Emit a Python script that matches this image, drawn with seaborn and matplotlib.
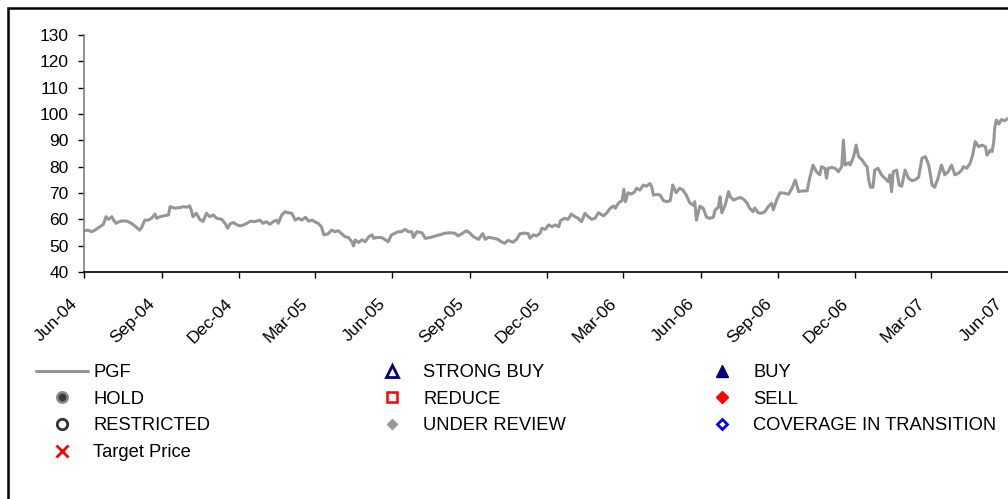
import matplotlib
matplotlib.use("Agg")
import matplotlib.pyplot as plt
import matplotlib.transforms as mtransforms
from matplotlib.lines import Line2D
from matplotlib.patches import Rectangle
import pandas as pd
import seaborn as sns

# Closing price series: calendar days after the start date, and price
start_date = "2004-06-01"
end_date = "2007-06-01"
days = [
    0, 5, 9, 13, 19, 23, 26, 29, 33, 35, 38, 41, 45, 51, 56, 60, 66, 68, 72, 76,
    80, 84, 86, 90, 94, 100, 102, 108, 114, 118, 122, 125, 127, 129, 133, 137, 141, 145, 149, 153,
    157, 163, 167, 170, 173, 177, 181, 185, 189, 193, 197, 202, 208, 212, 216, 220, 224, 228, 230, 234,
    238, 242, 246, 250, 254, 258, 262, 266, 270, 273, 277, 281, 284, 289, 293, 297, 301, 305, 309, 313,
    317, 319, 321, 325, 329, 333, 337, 341, 343, 347, 352, 356, 360, 364, 368, 372, 376, 380, 384, 388,
    390, 394, 400, 404, 410, 416, 421, 427, 433, 439, 443, 449, 453, 457, 461, 467, 472, 475, 479, 485,
    490, 494, 498, 502, 508, 512, 516, 522, 526, 528, 532, 536, 540, 542, 546, 550, 554, 558, 562, 564,
    569, 573, 577, 581, 585, 589, 593, 597, 601, 605, 609, 615, 619, 623, 627, 629, 633, 637, 639, 641,
    644, 648, 652, 654, 658, 662, 666, 670, 672, 674, 678, 682, 686, 690, 694, 697, 701, 705, 709, 713,
    717, 721, 723, 725, 729, 733, 737, 741, 745, 747, 751, 753, 755, 759, 763, 765, 769, 773, 777, 781,
    785, 788, 792, 794, 798, 802, 806, 810, 814, 816, 820, 824, 830, 834, 838, 842, 846, 850, 856, 859,
    863, 867, 871, 873, 877, 879, 881, 885, 889, 893, 897, 899, 901, 905, 907, 911, 914, 917, 921, 925,
    927, 929, 931, 934, 936, 940, 944, 948, 952, 954, 956, 958, 962, 965, 968, 972, 976, 980, 984, 988,
    992, 996, 1000, 1004, 1007, 1011, 1015, 1019, 1023, 1027, 1031, 1035, 1039, 1041, 1045, 1049, 1052, 1055, 1059, 1063,
    1067, 1069, 1073, 1075, 1077, 1078, 1080, 1083, 1086, 1090, 1093,
]
price = [
    55.7, 55.9, 55.3, 55.9, 57.2, 58.1, 61.0, 60.0, 61.0, 59.7, 58.5, 59.0, 59.4, 59.3, 58.5, 57.5, 55.9, 56.8, 59.7, 59.7,
    60.4, 62.0, 60.4, 61.0, 61.3, 61.7, 64.8, 64.2, 64.5, 64.8, 64.6, 65.1, 63.5, 61.0, 62.3, 60.0, 59.2, 62.3, 61.0, 61.7,
    60.4, 60.0, 58.5, 56.6, 58.3, 58.8, 57.9, 57.5, 57.9, 58.5, 59.3, 59.1, 59.7, 58.5, 59.1, 58.1, 59.1, 59.7, 58.5, 61.6,
    62.9, 62.5, 62.3, 59.7, 60.4, 59.7, 60.8, 59.3, 59.7, 59.1, 58.5, 57.2, 54.1, 54.5, 55.9, 55.3, 55.7, 54.5, 53.4, 53.1,
    51.5, 49.9, 52.2, 51.2, 52.2, 51.5, 53.4, 54.1, 52.8, 53.1, 53.1, 52.4, 51.5, 54.1, 54.7, 55.3, 55.3, 56.2, 55.3, 55.3,
    53.1, 55.3, 54.9, 52.8, 53.1, 53.7, 54.1, 54.7, 54.9, 54.7, 53.7, 54.9, 55.7, 54.7, 53.4, 52.4, 54.6, 52.4, 53.2, 52.8,
    52.4, 51.5, 50.9, 52.0, 51.3, 52.4, 54.5, 54.8, 54.5, 52.8, 54.1, 53.7, 54.8, 56.6, 56.2, 57.9, 57.2, 57.9, 57.2, 59.5,
    60.4, 60.0, 62.0, 61.0, 60.4, 59.1, 62.3, 61.0, 60.0, 60.4, 62.5, 61.3, 62.5, 64.2, 65.1, 64.2, 66.3, 67.1, 71.4, 66.7,
    70.1, 69.6, 70.5, 71.8, 71.1, 73.0, 72.6, 73.6, 72.4, 69.2, 69.5, 69.2, 67.1, 66.7, 67.1, 73.0, 70.1, 71.8, 71.1, 69.2,
    66.3, 65.4, 66.7, 59.7, 65.0, 64.2, 60.8, 60.4, 60.8, 63.5, 64.6, 68.6, 62.5, 65.4, 70.5, 68.6, 67.3, 67.9, 68.3, 67.6,
    66.1, 64.2, 62.9, 64.3, 62.5, 62.3, 62.9, 64.8, 66.1, 63.6, 67.4, 70.1, 69.9, 69.5, 71.8, 74.9, 70.5, 70.8, 70.8, 75.6,
    80.6, 78.1, 76.9, 80.0, 79.4, 75.6, 79.4, 79.7, 79.4, 78.1, 80.0, 90.1, 80.6, 81.5, 80.6, 83.8, 88.2, 83.8, 82.6, 80.6,
    80.0, 74.9, 72.2, 72.2, 78.7, 79.4, 76.9, 75.6, 74.3, 76.9, 70.5, 78.1, 78.7, 73.0, 72.6, 78.7, 75.6, 74.7, 75.0, 76.0,
    83.2, 83.8, 80.6, 73.0, 72.2, 75.6, 80.6, 76.9, 78.1, 80.6, 76.9, 77.5, 78.7, 80.0, 79.4, 81.3, 84.4, 89.5, 87.6, 88.2,
    87.6, 84.4, 86.3, 85.7, 89.5, 94.6, 97.7, 96.2, 97.9, 97.4, 98.2,
]
ticker = "PGF"
y_ticks = [40, 50, 60, 70, 80, 90, 100, 110, 120, 130]
x_tick_freq = "3MS"

# Rating key entries, listed column by column
legend_columns = [
    ["PGF", "HOLD", "RESTRICTED", "Target Price"],
    ["STRONG BUY", "REDUCE", "UNDER REVIEW"],
    ["BUY", "SELL", "COVERAGE IN TRANSITION"],
]

sns.set_theme(style="white")
plt.rcParams["font.family"] = ["Liberation Sans", "DejaVu Sans"]
plt.rcParams["text.color"] = "black"

W, H = 1008, 499
fig = plt.figure(figsize=(W / 100, H / 100), dpi=100)
ax = fig.add_axes([84 / W, 1 - 272 / H, 925 / W, 237 / H])

df = pd.DataFrame({
    "date": pd.Timestamp(start_date) + pd.to_timedelta(days, unit="D"),
    "price": price,
})
line_color = "#969696"
sns.lineplot(data=df, x="date", y="price", ax=ax, color=line_color,
             linewidth=2.2, legend=False)

ax.set_xlim(pd.Timestamp(start_date), pd.Timestamp(end_date))
ax.set_ylim(y_ticks[0], y_ticks[-1])
ax.set_yticks(y_ticks)
ax.set_xlabel("")
ax.set_ylabel("")

for side in ("top", "right"):
    ax.spines[side].set_visible(False)
ax.spines["left"].set_color("#808080")
ax.spines["left"].set_linewidth(1.2)
ax.spines["bottom"].set_color("black")
ax.spines["bottom"].set_linewidth(1.2)

ax.tick_params(axis="both", which="major", direction="out", length=4,
               width=1, color="black", labelcolor="black", labelsize=12.5,
               bottom=True, left=True)
ax.tick_params(axis="y", pad=7)

# Quarterly date ticks; the slanted labels sit down and to the left of each tick
tick_dates = pd.date_range(start_date, end_date, freq=x_tick_freq)
ax.set_xticks(tick_dates)
ax.tick_params(axis="x", labelbottom=False)
label_shift = mtransforms.ScaledTranslation(-0.143, -0.237, fig.dpi_scale_trans)
for d in tick_dates:
    ax.text(d, 0, d.strftime("%b-%y"), transform=ax.get_xaxis_transform() + label_shift,
            rotation=45, ha="right", va="top", rotation_mode="anchor",
            fontsize=12.5, color="black", clip_on=False)

# Legend handles
styles = {
    "PGF": dict(color=line_color, lw=2.2),
    "HOLD": dict(ls="none", marker="o", ms=7.5, mfc="#3a3a3a", mec="#8a8a8a", mew=1.8),
    "RESTRICTED": dict(ls="none", marker="o", ms=7.5, mfc="white", mec="#333333", mew=2),
    "Target Price": dict(ls="none", marker="x", ms=8, mec="#ff0000", mew=2),
    "STRONG BUY": dict(ls="none", marker="^", ms=8.5, mfc="white", mec="#000080", mew=2),
    "REDUCE": dict(ls="none", marker="s", ms=7.5, mfc="white", mec="#ff0000", mew=1.8),
    "UNDER REVIEW": dict(ls="none", marker="D", ms=5, mfc="#999999", mec="#999999", mew=1),
    "BUY": dict(ls="none", marker="^", ms=9, mfc="#000080", mec="#000080", mew=1),
    "SELL": dict(ls="none", marker="D", ms=6, mfc="#ff0000", mec="#ff0000", mew=1),
    "COVERAGE IN TRANSITION": dict(ls="none", marker="D", ms=5.5, mfc="white", mec="#0000ff", mew=2),
}

col_left = [36, 366, 696]
legend_top = 364.0
for left, names in zip(col_left, legend_columns):
    handles = [Line2D([], [], **styles[n]) for n in names]
    fig.legend(handles, names, loc="upper left",
               bbox_to_anchor=(left / W, 1 - legend_top / H),
               bbox_transform=fig.transFigure, frameon=False,
               fontsize=13.2, borderpad=0, borderaxespad=0,
               handlelength=2.84, handletextpad=0.27,
               labelspacing=0.53, numpoints=1)

# Outer frame around the chart
frame = Rectangle((7.5 / W, -0.2), 1.5, 1.2 - 7.5 / H, transform=fig.transFigure,
                  fill=False, edgecolor="black", linewidth=1.8, clip_on=False)
fig.add_artist(frame)

fig.savefig("out.png", dpi=100)
